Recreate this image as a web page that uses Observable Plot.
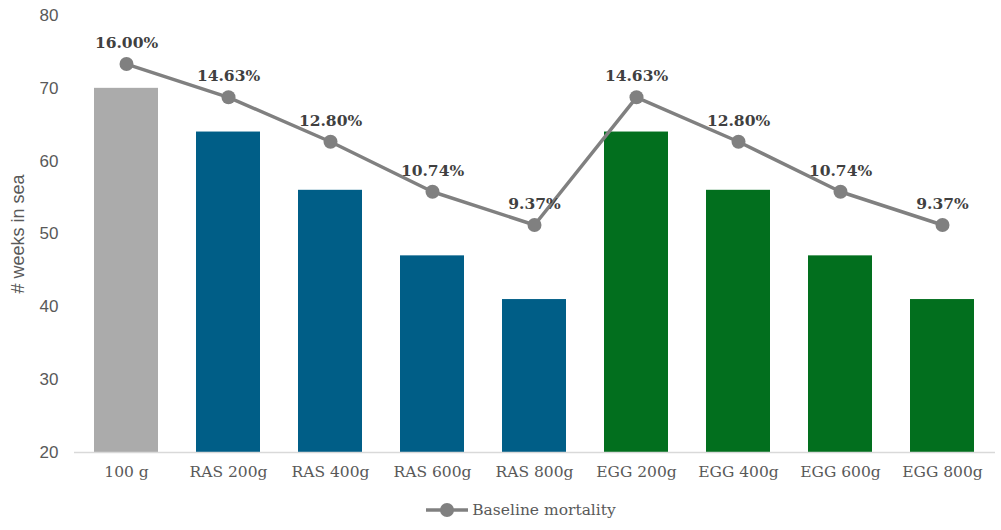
<!DOCTYPE html>
<html>
<head>
<meta charset="utf-8">
<script src="https://cdn.jsdelivr.net/npm/d3@7"></script>
<script src="https://cdn.jsdelivr.net/npm/@observablehq/plot@0.6"></script>
<style>
  html, body { margin: 0; padding: 0; background: #fff; }
  #chart { width: 1001px; }
  .legend { display: flex; justify-content: center; align-items: center; height: 40px; margin-left: 40px;
            font-family: "DejaVu Serif", serif; font-size: 15.5px; color: #595959; }
  .legend svg { margin-right: 3px; }
</style>
</head>
<body>
<div id="chart"></div>
<script>
const categories = ["100 g", "RAS 200g", "RAS 400g", "RAS 600g", "RAS 800g", "EGG 200g", "EGG 400g", "EGG 600g", "EGG 800g"];
const groups = ["Baseline", "RAS", "RAS", "RAS", "RAS", "EGG", "EGG", "EGG", "EGG"];
const weeksInSea = [70, 64, 56, 47, 41, 64, 56, 47, 41];
const mortality = [16.00, 14.63, 12.80, 10.74, 9.37, 14.63, 12.80, 10.74, 9.37];
const yTicks = [20, 30, 40, 50, 60, 70, 80];
const groupNames = ["Baseline", "RAS", "EGG"];
const groupColors = ["#ABABAB", "#005E87", "#026F1E"];
const mortalityAxis = [0, 18]; // hidden secondary axis (%)

// hidden secondary axis mapped onto the primary one
const secondary = d3.scaleLinear(mortalityAxis, [yTicks[0], yTicks[yTicks.length - 1]]);

const data = categories.map((c, i) => ({
  category: c,
  group: groups[i],
  weeks: weeksInSea[i],
  mortality: mortality[i],
  mortalityY: secondary(mortality[i]),
  label: mortality[i].toFixed(2) + "%"
}));

const chart = Plot.plot({
  width: 1001,
  height: 490,
  marginTop: 15,
  marginBottom: 38,
  marginLeft: 74,
  marginRight: 6,
  style: { fontFamily: "Liberation Sans, sans-serif", background: "#fff" },
  x: { domain: categories, paddingInner: 0.37, paddingOuter: 0.185, label: null },
  y: { domain: [20, 80], label: null },
  color: { domain: groupNames, range: groupColors },
  marks: [
    Plot.barY(data, { x: "category", y1: 20, y2: "weeks", fill: "group" }),
    Plot.ruleY([20], { stroke: "#D9D9D9", strokeWidth: 1.5 }),
    Plot.axisY({
      ticks: yTicks, tickSize: 0, tickPadding: 16, fontSize: 17, fill: "#595959",
      fontFamily: "Liberation Sans, sans-serif", label: null
    }),
    Plot.text(["# weeks in sea"], {
      frameAnchor: "left", rotate: -90, dx: -56, fontSize: 18, fill: "#595959",
      fontFamily: "Liberation Sans, sans-serif", textAnchor: "middle"
    }),
    Plot.axisX({
      tickSize: 0, tickPadding: 13, fontSize: 15.5, fill: "#595959",
      fontFamily: "DejaVu Serif, serif", label: null
    }),
    Plot.line(data, { x: "category", y: "mortalityY", stroke: "#808080", strokeWidth: 3.5 }),
    Plot.dot(data, { x: "category", y: "mortalityY", r: 7, fill: "#808080", stroke: "none" }),
    Plot.text(data, {
      x: "category", y: "mortalityY", text: "label", dy: -21,
      fontFamily: "DejaVu Serif, serif", fontWeight: "bold", fontSize: 15.5, fill: "#404040"
    })
  ]
});

document.getElementById("chart").appendChild(chart);

const legend = document.createElement("div");
legend.className = "legend";
legend.innerHTML = `<svg width="44" height="16"><line x1="1" y1="8" x2="43" y2="8" stroke="#808080" stroke-width="3.5"/><circle cx="22" cy="8" r="7" fill="#808080"/></svg><span>Baseline mortality</span>`;
document.getElementById("chart").appendChild(legend);
</script>
</body>
</html>
